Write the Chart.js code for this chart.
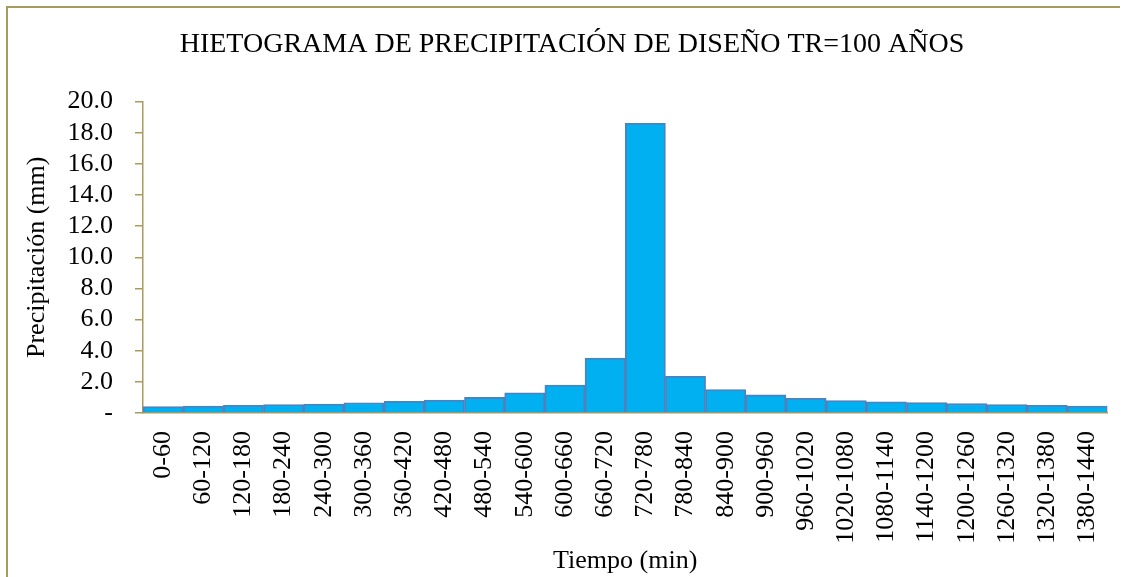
<!DOCTYPE html>
<html>
<head>
<meta charset="utf-8">
<script src="https://cdn.jsdelivr.net/npm/chart.js@4"></script>
<style>
	body { margin: 0; background: #fff; }
	#frame { position: absolute; left: 6px; top: 6px; width: 1112px; height: 580px; border-left: 2px solid #A89B60; border-top: 2px solid #A89B60; }
	#myChart { position: absolute; left: 0; top: 0; }
</style>
</head>
<body>
<div id="frame"></div>
<canvas id="myChart" width="1129" height="577"></canvas>
<script>
var periods = ["0-60", "60-120", "120-180", "180-240", "240-300", "300-360", "360-420", "420-480",
	"480-540", "540-600", "600-660", "660-720", "720-780", "780-840", "840-900", "900-960",
	"960-1020", "1020-1080", "1080-1140", "1140-1200", "1200-1260", "1260-1320", "1320-1380", "1380-1440"];
var precipitation = [0.42, 0.44, 0.50, 0.54, 0.58, 0.66, 0.75, 0.83, 1.00, 1.30, 1.80, 3.53,
	18.6, 2.36, 1.50, 1.16, 0.94, 0.80, 0.72, 0.67, 0.60, 0.54, 0.50, 0.44];
var yTicks = [0, 2, 4, 6, 8, 10, 12, 14, 16, 18, 20];

var axisColor = "#A89B60";
var serif = "'Liberation Serif', 'Times New Roman', serif";

new Chart("myChart", {
	type: "bar",
	data: {
		labels: periods,
		datasets: [{
			backgroundColor: "#00B0F0",
			borderColor: "#4F81BD",
			borderWidth: 1.8,
			data: precipitation,
			barPercentage: 1,
			categoryPercentage: 1
		}]
	},
	options: {
		responsive: false,
		animation: false,
		// left padding is larger so the chart title sits a bit right of centre, like the original
		layout: { padding: { left: 36, right: 21, top: 0, bottom: 0 } },
		plugins: {
			legend: { display: false },
			tooltip: { enabled: false },
			title: {
				display: true,
				text: "HIETOGRAMA DE PRECIPITACIÓN DE DISEÑO TR=100 AÑOS",
				color: "#000",
				font: { family: serif, size: 28, weight: "normal" },
				padding: { top: 28, bottom: 40 }
			}
		},
		scales: {
			x: {
				afterFit: function (axis) { axis.height = 164; },
				grid: { display: false },
				border: { display: true, color: axisColor, width: 1.5 },
				ticks: {
					color: "#000",
					font: { family: serif, size: 26 },
					minRotation: 90,
					maxRotation: 90,
					autoSkip: false,
					padding: 10
				},
				title: {
					display: true,
					text: "Tiempo (min)",
					color: "#000",
					font: { family: serif, size: 26 },
					padding: { top: 0, bottom: 0 }
				}
			},
			y: {
				min: 0,
				max: 20,
				afterBuildTicks: function (axis) {
					axis.ticks = yTicks.map(function (v) { return { value: v }; });
				},
				afterFit: function (axis) { axis.width = 107; },
				grid: { drawOnChartArea: false, color: axisColor, tickLength: 8, lineWidth: 1.5 },
				border: { display: true, color: axisColor, width: 1.5 },
				ticks: {
					color: "#000",
					font: { family: serif, size: 26 },
					padding: 22,
					autoSkip: false,
					callback: function (v) { return v === 0 ? "-" : v.toFixed(1); }
				},
				title: {
					display: true,
					text: "Precipitación (mm)",
					color: "#000",
					font: { family: serif, size: 26 },
					padding: { top: -14, bottom: 0 }
				}
			}
		}
	}
});
</script>
</body>
</html>
